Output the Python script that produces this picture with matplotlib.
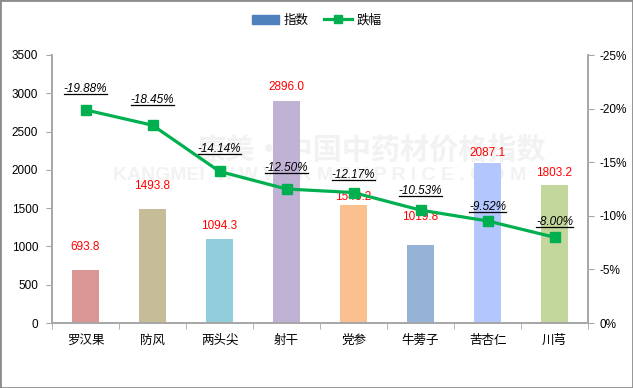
'''
Herb price index bar + decline line
'''

# Imports
import matplotlib
matplotlib.use('Agg')
import matplotlib.pyplot as plt
from matplotlib.lines import Line2D
from matplotlib.patches import Rectangle
from matplotlib.ticker import FuncFormatter

plt.rcParams['font.family'] = ['Liberation Sans', 'Noto Sans CJK SC', 'DejaVu Sans']

# Data
herbs = ['罗汉果', '防风', '两头尖', '射干', '党参', '牛蒡子', '苦杏仁', '川芎']
index_values = [693.8, 1493.8, 1094.3, 2896.0, 1546.2, 1019.8, 2087.1, 1803.2]
decline_pct = [-19.88, -18.45, -14.14, -12.50, -12.17, -10.53, -9.52, -8.00]

# Styles
bar_colors = ['#D99694', '#C4BD97', '#92CDDC', '#C0B2D4', '#FAC090', '#95B3D7', '#B4C6FE', '#C3D69B']
bar_label_dy = [12, 12, 5, 6, 1.5, 16, 3, 4.5]          # points above bar top
line_label_dy = [10.8, 13.7, 11.5, 10.8, 8.6, 9.4, 5.8, 6.5]  # points above marker
GREEN = '#00B050'
AXIS = '#A6A6A6'
WATERMARK = '#F2F2F2'

# Figure
fig = plt.figure(figsize=(6.33, 3.88), dpi=100)
ax = fig.add_axes([52 / 633, 1 - 323 / 388, 536 / 633, 268 / 388])
ax2 = ax.twinx()
ax.set_zorder(1)
ax2.set_zorder(2)
ax.patch.set_visible(False)

x = list(range(len(herbs)))

# Watermark (behind bars)
ax.text(1.66, 2260, '康美·中国中药材价格指数', fontsize=21, fontweight='bold',
        color=WATERMARK, family=['Noto Sans CJK SC'], va='center', ha='left', zorder=0)
ax.text(0.41, 1930, 'KANGMEI  W W W . K M Z Y P R I C E . C O M', fontsize=14,
        fontweight='bold', color=WATERMARK, va='center', ha='left', zorder=0)

# Bars
bars = ax.bar(x, index_values, width=0.4, color=bar_colors, zorder=2)
for xi, v, dy in zip(x, index_values, bar_label_dy):
    ax.annotate('%.1f' % v, (xi, v), xytext=(0, dy), textcoords='offset points',
                ha='center', va='bottom', color='red', fontsize=8.5, zorder=3)

ax.set_xlim(-0.5, len(herbs) - 0.5)
ax.set_ylim(0, 3500)
ax.set_yticks(range(0, 3501, 500))
ax.set_xticks(x)
ax.set_xticklabels(herbs, family=['Noto Sans CJK SC'], fontsize=9)
ax.set_xticks([i - 0.5 for i in range(len(herbs) + 1)], minor=True)
ax.tick_params(axis='x', which='major', length=0, pad=8)
ax.tick_params(axis='x', which='minor', length=4, color=AXIS)
ax.tick_params(axis='y', length=4, color=AXIS, labelsize=8.5, pad=6)

# Line
ax2.plot(x, decline_pct, color=GREEN, lw=2.3, marker='s', markersize=6.5, zorder=4)
ax2.set_ylim(0, -25)
ax2.set_yticks(range(0, -26, -5))
ax2.yaxis.set_major_formatter(FuncFormatter(lambda v, p: '%d%%' % v if v != 0 else '0%'))
ax2.tick_params(axis='y', length=4, color=AXIS, labelsize=8.5, pad=4)

line_texts = []
for xi, v, dy in zip(x, decline_pct, line_label_dy):
    t = ax2.annotate('%.2f%%' % v, (xi, v), xytext=(0, dy), textcoords='offset points',
                     ha='center', va='bottom', fontsize=8.5, style='italic', zorder=5)
    line_texts.append(t)

for a in (ax, ax2):
    a.spines['top'].set_visible(False)
    for s in ('left', 'right', 'bottom'):
        a.spines[s].set_color(AXIS)
        a.spines[s].set_linewidth(1.2)

# Legend
handles = [Rectangle((0, 0), 1, 1, color='#4F81BD'),
           Line2D([], [], color=GREEN, lw=2.3, marker='s', markersize=6)]
fig.legend(handles, ['指数', '跌幅'], loc='center', bbox_to_anchor=(0.5, 1 - 20 / 388),
           ncol=2, frameon=False, prop={'family': ['Noto Sans CJK SC'], 'size': 9},
           handlelength=2.2, columnspacing=1.2, handletextpad=0.4)

# Underline the line labels
fig.canvas.draw()
renderer = fig.canvas.get_renderer()
inv = fig.transFigure.inverted()
for t in line_texts:
    bb = t.get_window_extent(renderer)
    (x0, y0), (x1, _) = inv.transform([(bb.x0, bb.y0 + 1), (bb.x1, bb.y0 + 1)])
    fig.add_artist(Line2D([x0, x1], [y0, y0], color='black', lw=0.9, transform=fig.transFigure))

# Figure border
fig.add_artist(Rectangle((0, 0), 1, 1, transform=fig.transFigure, fill=False,
                         edgecolor='#8C8C8C', lw=2))

fig.savefig('out.png', dpi=100)
plt.close(fig)
